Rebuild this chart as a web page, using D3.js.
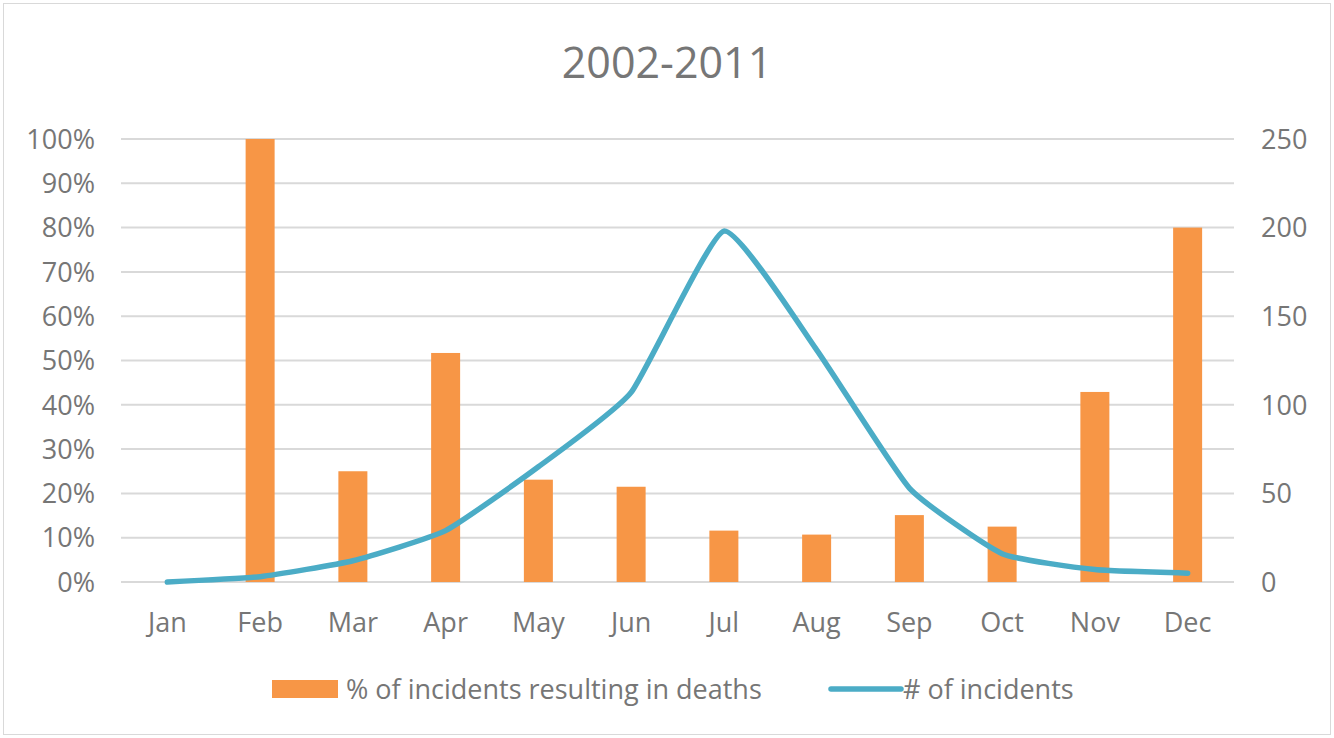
<!DOCTYPE html>
<html>
<head>
<meta charset="utf-8">
<script src="https://cdnjs.cloudflare.com/ajax/libs/d3/7.8.5/d3.min.js"></script>
<style>
  body { margin: 0; background: #fff; }
  text { font-family: "Open Sans", Lato, sans-serif; fill: #767676; }
</style>
</head>
<body>
<div id="chart"></div>
<script>
var months = ["Jan","Feb","Mar","Apr","May","Jun","Jul","Aug","Sep","Oct","Nov","Dec"];
// share of incidents that ended in deaths
var pctDeaths = [0, 1.00, 0.25, 0.517, 0.231, 0.215, 0.116, 0.107, 0.151, 0.125, 0.429, 0.80];
// number of incidents
var incidents = [0, 3, 12, 29, 65, 107, 198, 131, 53, 16, 7, 5];
var leftTicks = [0, 0.1, 0.2, 0.3, 0.4, 0.5, 0.6, 0.7, 0.8, 0.9, 1.0];
var rightTicks = [0, 50, 100, 150, 200, 250];

var width = 1334, height = 738;
var plotLeft = 121, plotRight = 1234, plotTop = 139, plotBottom = 582;

var svg = d3.select("#chart").append("svg")
  .attr("width", width).attr("height", height);

// outer chart border
svg.append("rect")
  .attr("x", 3.5).attr("y", 3.5)
  .attr("width", width - 7).attr("height", height - 7)
  .attr("fill", "none").attr("stroke", "#d9d9d9");

var x = d3.scaleBand().domain(months).range([plotLeft, plotRight]);
var y = d3.scaleLinear().domain([0, 1]).range([plotBottom, plotTop]);
var y2 = d3.scaleLinear().domain([0, 250]).range([plotBottom, plotTop]);

// gridlines
svg.selectAll(".grid")
  .data(leftTicks)
  .enter().append("line")
  .attr("class", "grid")
  .attr("x1", plotLeft).attr("x2", plotRight)
  .attr("y1", function(d){ return y(d) })
  .attr("y2", function(d){ return y(d) })
  .attr("stroke", "#d9d9d9").attr("stroke-width", 2);

// left axis labels
svg.selectAll(".ltick")
  .data(leftTicks)
  .enter().append("text")
  .attr("x", 95)
  .attr("y", function(d){ return y(d) })
  .attr("dy", "0.36em")
  .attr("text-anchor", "end")
  .attr("font-size", 27)
  .text(d3.format(".0%"));

// right axis labels
svg.selectAll(".rtick")
  .data(rightTicks)
  .enter().append("text")
  .attr("x", 1261)
  .attr("y", function(d){ return y2(d) })
  .attr("dy", "0.36em")
  .attr("font-size", 27)
  .text(function(d){ return d });

// month labels
svg.selectAll(".mlab")
  .data(months)
  .enter().append("text")
  .attr("x", function(d){ return x(d) + x.bandwidth()/2 })
  .attr("y", 632)
  .attr("text-anchor", "middle")
  .attr("font-size", 27)
  .text(function(d){ return d });

// bars
var barW = 29;
svg.selectAll(".bar")
  .data(pctDeaths)
  .enter().append("rect")
  .attr("class", "bar")
  .attr("x", function(d, i){ return x(months[i]) + x.bandwidth()/2 - barW/2 })
  .attr("y", function(d){ return y(d) })
  .attr("width", barW)
  .attr("height", function(d){ return plotBottom - y(d) })
  .attr("fill", "#f79646");

// incidents line
var line = d3.line()
  .x(function(d, i){ return x(months[i]) + x.bandwidth()/2 })
  .y(function(d){ return y2(d) })
  .curve(d3.curveCardinal.tension(0.55));

svg.append("path")
  .datum(incidents)
  .attr("d", line)
  .attr("fill", "none")
  .attr("stroke", "#4bacc6")
  .attr("stroke-width", 5.5)
  .attr("stroke-linecap", "round")
  .attr("stroke-linejoin", "round");

// title
svg.append("text")
  .attr("x", 667).attr("y", 78)
  .attr("text-anchor", "middle")
  .attr("font-size", 43)
  .text("2002-2011");

// legend
svg.append("rect")
  .attr("x", 272).attr("y", 680)
  .attr("width", 66).attr("height", 18)
  .attr("fill", "#f79646");
svg.append("text")
  .attr("x", 346).attr("y", 689)
  .attr("dy", "0.36em")
  .attr("font-size", 27)
  .text("% of incidents resulting in deaths");
svg.append("line")
  .attr("x1", 831).attr("x2", 901)
  .attr("y1", 689).attr("y2", 689)
  .attr("stroke", "#4bacc6").attr("stroke-width", 5.5)
  .attr("stroke-linecap", "round");
svg.append("text")
  .attr("x", 903).attr("y", 689)
  .attr("dy", "0.36em")
  .attr("font-size", 27)
  .text("# of incidents");
</script>
</body>
</html>
